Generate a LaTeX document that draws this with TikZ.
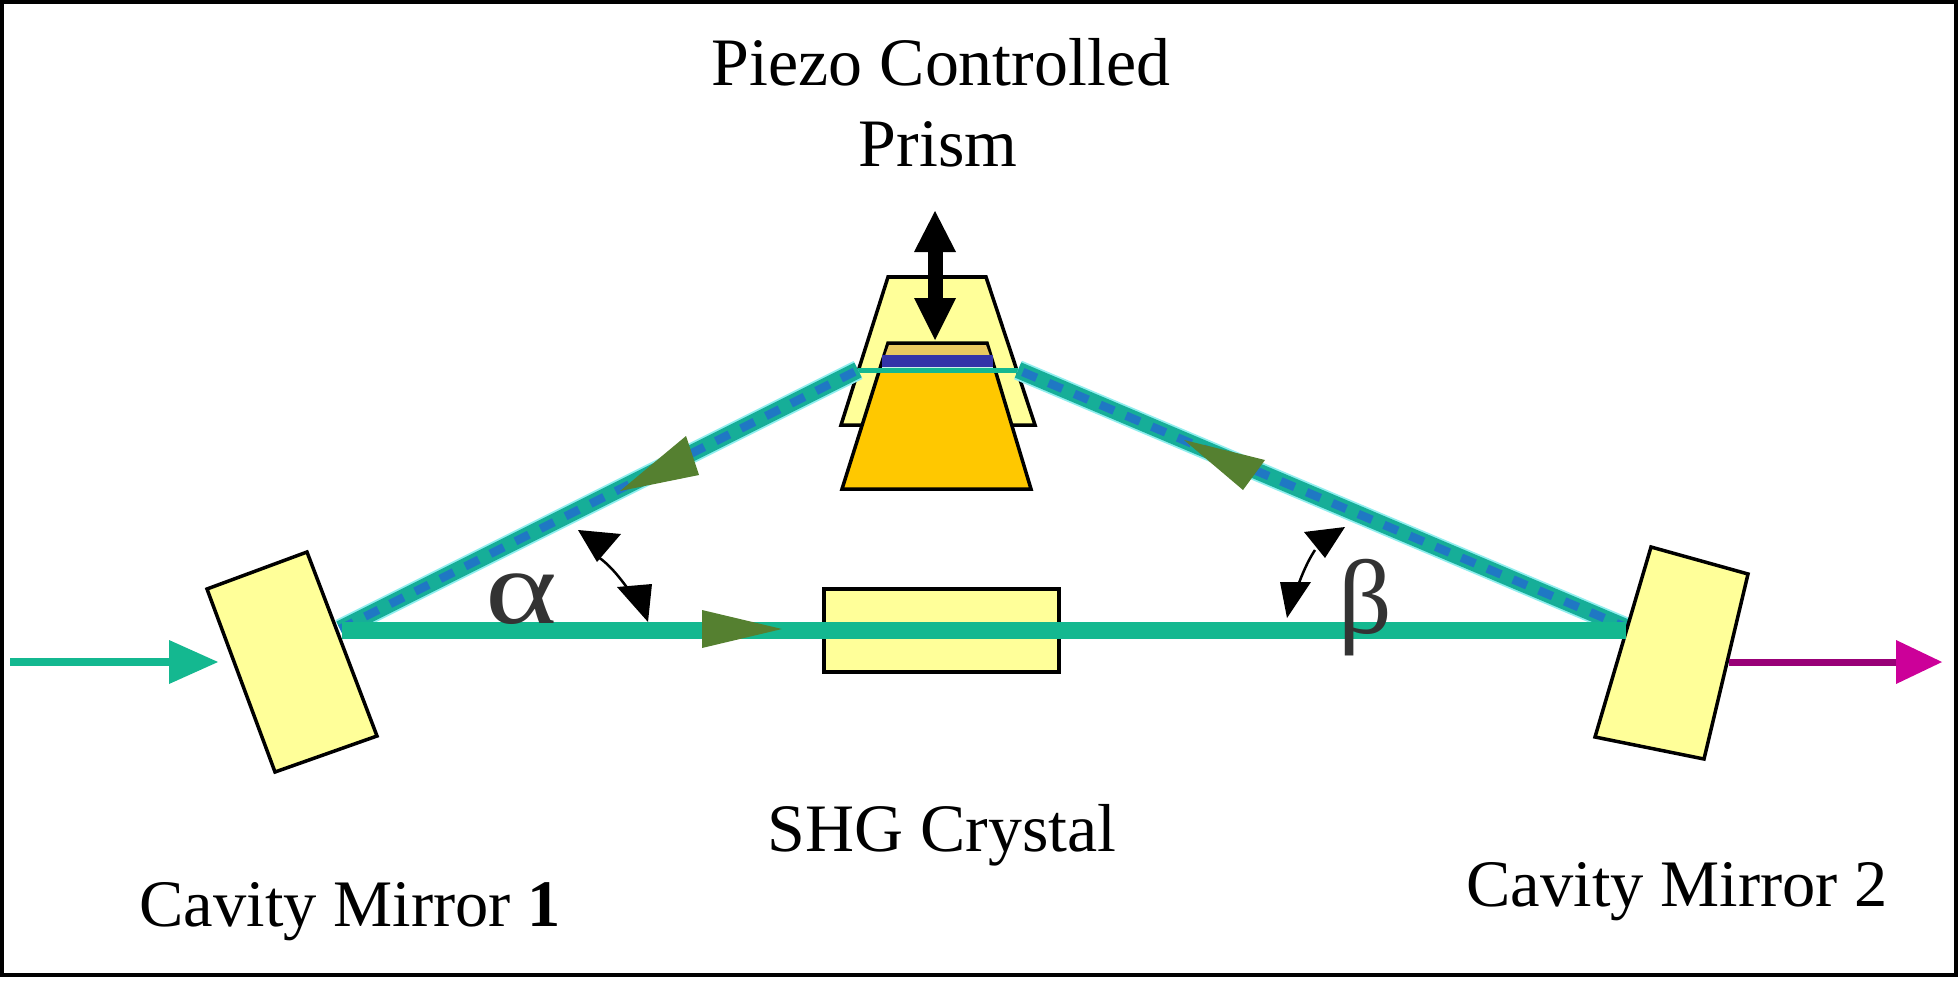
\documentclass[tikz,border=0pt]{standalone}
\usepackage{graphicx}
\usepackage{fontspec}
\setmainfont{Liberation Serif}
\newfontfamily\greekfont{Liberation Serif}
\definecolor{beamteal}{HTML}{14B890}
\definecolor{beamblue}{HTML}{1F78C4}
\definecolor{beamhalo}{HTML}{90EEEE}
\definecolor{paleyellow}{HTML}{FFFF99}
\definecolor{prismorange}{HTML}{FFC800}
\definecolor{prismtan}{HTML}{E8C860}
\definecolor{tipgreen}{HTML}{558030}
\definecolor{barblue}{HTML}{3333A8}
\definecolor{outmag}{HTML}{990077}
\definecolor{outhead}{HTML}{CC0099}
\tikzset{
  lbl/.style={font=\fontsize{19.3pt}{23pt}\selectfont,inner sep=0pt,text=black},
  lblb/.style={font=\fontsize{18.9pt}{23pt}\selectfont,inner sep=0pt,text=black},
  greek/.style={font=\fontsize{30pt}{32pt}\selectfont\greekfont,inner sep=0pt,text=black!80},
  optic/.style={draw=black,line width=0.035cm,fill=paleyellow,line join=miter},
  beamcore/.style={beamteal!85!beamblue,line width=0.165cm},
  beamhaloline/.style={beamhalo,line width=0.2cm},
  beamdash/.style={beamblue,line width=0.085cm,dash pattern=on 0.15cm off 0.13cm},
  tip/.style={fill=tipgreen,draw=none},
  angarrow/.style={black,line width=0.025cm},
  anghead/.style={fill=black,draw=none}
}
\begin{document}
\begin{tikzpicture}[x=0.01cm,y=-0.01cm]
\useasboundingbox (0,0) rectangle (1958,988);
\fill[white] (0,0) rectangle (1958,988);
\draw[black,line width=0.035cm] (2,2) rectangle (1956,975);

% anchor coordinates
\coordinate (m1) at (340,629);
\coordinate (m2) at (1630,629);
\coordinate (pl) at (858,370);
\coordinate (pr) at (1018,370);

% prism
\draw[optic] (888,277) -- (986,277) -- (1035,425) -- (841,425) -- cycle;
\draw[draw=black,line width=0.035cm,fill=prismorange] (888,343) -- (987,343) -- (1031,489) -- (842,489) -- cycle;
\fill[prismtan] (889,345) -- (986,345) -- (990,356) -- (885,356) -- cycle;
\fill[barblue] (882,355) rectangle (993,367);
\fill[white!80!beamteal] (882,367) rectangle (993,371);
\draw[beamteal,line width=0.05cm] (858,370) -- (1018,370);

% beams
\draw[beamhaloline] (m1) -- (pl);
\draw[beamhaloline] (m2) -- (pr);
\draw[beamcore] (m1) -- (pl);
\draw[beamcore] (m2) -- (pr);
\draw[beamdash] (m1) -- (pl);
\draw[beamdash] (m2) -- (pr);

% optics
\draw[optic] (207,589) -- (307,552) -- (377,736) -- (275,772) -- cycle;
\draw[optic] (1651,547) -- (1748,574) -- (1704,759) -- (1595,737) -- cycle;
\draw[optic] (824,589) rectangle (1059,672);
\draw[beamteal,line width=0.17cm] (342,630) -- (1626,630);

% input and output
\coordinate (inS) at (10,662);
\coordinate (inT) at (170,662);
\draw[beamteal,line width=0.075cm] (inS) -- (inT);
\fill[beamteal] (169,640) -- (218,662) -- (169,684) -- cycle;
\coordinate (outS) at (1729,662);
\coordinate (outT) at (1897,662);
\draw[outmag,line width=0.07cm] (outS) -- (outT);
\fill[outhead] (1896,640) -- (1942,662) -- (1896,684) -- cycle;

% direction triangles
\fill[tip] (702,610) -- (782,629) -- (702,648) -- cycle;
\fill[tip] (620,491) -- (686,436) -- (699,475) -- cycle;
\fill[tip] (1184,440) -- (1265,460) -- (1243,490) -- cycle;

% piezo arrow
\coordinate (pzT) at (935,211);
\coordinate (pzB) at (935,340);
\draw[black,line width=0.15cm] (935,250) -- (935,300);
\fill[black] (pzT) -- (956,252) -- (914,252) -- cycle;
\fill[black] (pzB) -- (956,298) -- (914,298) -- cycle;

% angle arrows
\draw[angarrow] (595,555) .. controls (612,565) and (625,585) .. (636,600);
\fill[anghead] (578,530) -- (621,534) -- (597,562) -- cycle;
\fill[anghead] (648,622) -- (617,587) -- (652,584) -- cycle;
\draw[angarrow] (1315,550) .. controls (1305,565) and (1298,585) .. (1293,600);
\fill[anghead] (1345,527) -- (1304,532) -- (1325,558) -- cycle;
\fill[anghead] (1287,618) -- (1280,582) -- (1311,582) -- cycle;

% labels
\node[lbl] (t1) at (941,62) {Piezo Controlled};
\node[lbl] (t2) at (938,144) {Prism};
\node[lbl] (t3) at (942,835) {SHG Crystal};
\node[lblb] (t4) at (350,912) {Cavity Mirror \textbf{1}};
\node[lblb] (t5) at (1677,892) {Cavity Mirror 2};
\node[greek] (al) at (521,599) {\scalebox{1.3}[1]{α}};
\node[greek] (be) at (1365,608) {β};
\end{tikzpicture}
\end{document}
